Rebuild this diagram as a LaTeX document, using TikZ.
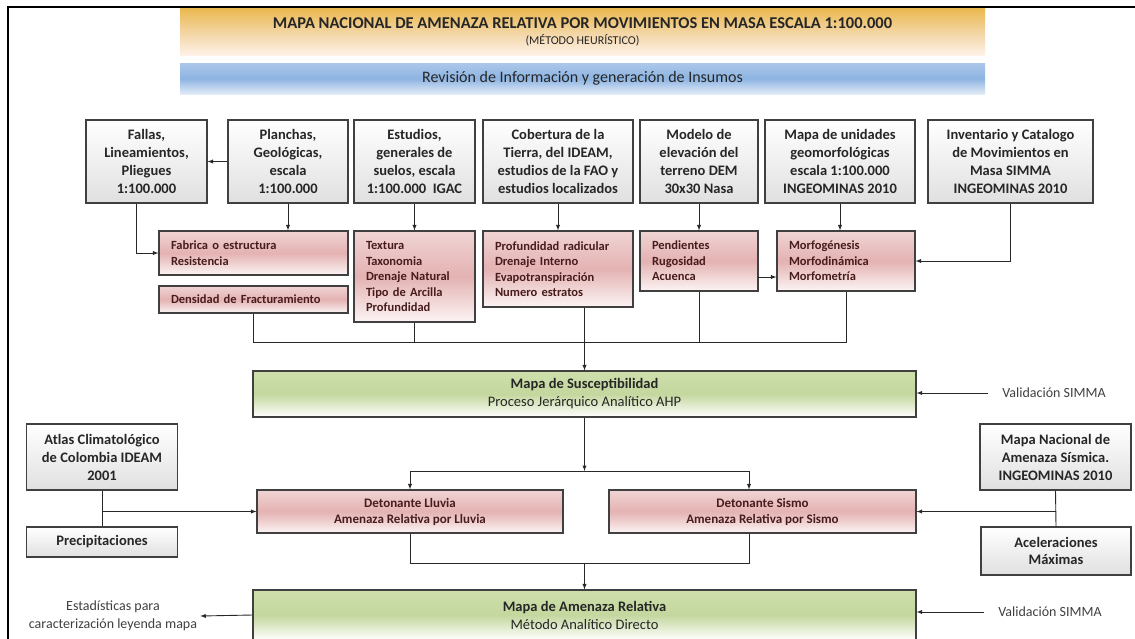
\documentclass[tikz,border=0pt]{standalone}
\usepackage{fontspec}
\setmainfont{Carlito}
\usetikzlibrary{positioning}

\definecolor{borde}{RGB}{64,64,64}
\definecolor{trazo}{RGB}{40,40,40}
\definecolor{tinta}{RGB}{38,38,38}
\definecolor{vino}{RGB}{72,28,28}
\definecolor{grisbajo}{RGB}{224,224,224}
\definecolor{rosaalto}{RGB}{240,212,212}
\definecolor{rosamedio}{RGB}{228,178,178}
\definecolor{rosabajo}{RGB}{252,244,244}
\definecolor{verdealto}{RGB}{206,223,172}
\definecolor{verdemedio}{RGB}{196,215,158}
\definecolor{oroalto}{RGB}{234,184,78}
\definecolor{oromedio}{RGB}{243,212,160}
\definecolor{orobajo}{RGB}{253,241,232}
\definecolor{azulalto}{RGB}{172,199,234}
\definecolor{azulmedio}{RGB}{141,180,226}
\definecolor{azulbajo}{RGB}{226,235,247}

\begin{document}
\begin{tikzpicture}[x=1pt, y=-1pt,
	banda/.style={align=center, text=tinta, inner sep=0pt},
	fuente/.style={draw=borde, line width=1.1pt, top color=white, bottom color=grisbajo, align=center, text=tinta, inner sep=0pt, font=\fontsize{14.5}{17.7}\selectfont\bfseries},
	insumo/.style={draw=borde, line width=1.1pt, top color=rosaalto, bottom color=rosabajo, middle color=rosamedio, align=left, text=vino, inner xsep=12pt, inner ysep=0pt, font=\fontsize{12.5}{15.5}\selectfont\bfseries},
	mapa/.style={draw=borde, line width=1.1pt, top color=verdealto, bottom color=white, middle color=verdemedio, align=center, text=tinta, inner sep=0pt, font=\fontsize{14.5}{18}\selectfont},
	detonante/.style={draw=borde, line width=1.1pt, top color=rosaalto, bottom color=rosabajo, middle color=rosamedio, align=center, text=vino, inner sep=0pt, font=\fontsize{13}{16}\selectfont\bfseries},
	nota/.style={align=center, text=borde, inner xsep=14pt, font=\fontsize{14}{18}\selectfont},
	flecha/.style={-latex, line width=0.9pt, draw=trazo},
	linea/.style={line width=0.9pt, draw=trazo}]
	\useasboundingbox (0,0) rectangle (1135,638);

	% marco
	\draw[line width=2.5pt, black] (8,640) -- (8,7) -- (1136,7);

	% titulo y revision
	\node[banda, top color=oroalto, bottom color=orobajo, middle color=oromedio, minimum width=805pt, minimum height=47pt] (titulo) at (582.5,31.5)
		{{\fontsize{16.5}{20}\selectfont\bfseries MAPA NACIONAL DE AMENAZA RELATIVA POR MOVIMIENTOS EN MASA ESCALA 1:100.000}\\[4pt]{\fontsize{12}{13}\selectfont (MÉTODO HEURÍSTICO)}};
	\node[banda, top color=azulalto, bottom color=azulbajo, middle color=azulmedio, minimum width=805pt, minimum height=31pt, font=\fontsize{16}{19}\selectfont] (revision) at (582.5,78.5)
		{Revisión de Información y generación de Insumos};

	% fuentes
	\node[fuente, minimum width=121pt, minimum height=83pt] (fallas) at (146.5,161.5) {Fallas,\\Lineamientos,\\Pliegues\\1:100.000};
	\node[fuente, minimum width=120pt, minimum height=83pt] (planchas) at (288,161.5) {Planchas,\\Geológicas,\\escala\\1:100.000};
	\node[fuente, minimum width=121pt, minimum height=83pt] (estudios) at (414.5,161.5) {Estudios,\\generales de\\suelos, escala\\1:100.000~~IGAC};
	\node[fuente, minimum width=150pt, minimum height=83pt] (cobertura) at (558,161.5) {Cobertura de la\\Tierra, del IDEAM,\\estudios de la FAO y\\estudios localizados};
	\node[fuente, minimum width=118pt, minimum height=83pt] (modelo) at (699,161.5) {Modelo de\\elevación del\\terreno DEM\\30x30 Nasa};
	\node[fuente, minimum width=150pt, minimum height=83pt] (unidades) at (840,161.5) {Mapa de unidades\\geomorfológicas\\escala 1:100.000\\INGEOMINAS 2010};
	\node[fuente, minimum width=165pt, minimum height=83pt] (inventario) at (1010.5,161.5) {Inventario y Catalogo\\de Movimientos en\\Masa SIMMA\\INGEOMINAS 2010};

	% insumos
	\node[insumo, text width=165pt, minimum height=44pt] (fabrica) at (253.5,253) {Fabrica o estructura\\Resistencia};
	\node[insumo, text width=165pt, minimum height=27pt] (densidad) at (253.5,299.5) {Densidad de Fracturamiento};
	\node[insumo, text width=97pt, minimum height=91pt] (textura) at (414.5,276.5) {Textura\\Taxonomia\\Drenaje Natural\\Tipo de Arcilla\\Profundidad};
	\node[insumo, text width=126pt, minimum height=76pt] (profundidad) at (558,269) {Profundidad radicular\\Drenaje Interno\\Evapotranspiración\\Numero estratos};
	\node[insumo, text width=94pt, minimum height=60pt] (pendientes) at (699,261) {Pendientes\\Rugosidad\\Acuenca};
	\node[insumo, text width=114pt, minimum height=60pt] (morfo) at (846,261) {Morfogénesis\\Morfodinámica\\Morfometría};

	\draw[flecha] (planchas.west) -- (fallas.east);
	\draw[flecha] ([xshift=-10pt]fallas.south) |- (fabrica.west);
	\draw[flecha] (planchas.south) -- (planchas.south |- fabrica.north);
	\draw[flecha] (estudios.south) -- (textura.north);
	\draw[flecha] (cobertura.south) -- (profundidad.north);
	\draw[flecha] (modelo.south) -- (pendientes.north);
	\draw[flecha] (unidades.south) -- (unidades.south |- morfo.north);
	\coordinate (pm) at (758,277);
	\draw[flecha] (pm) -- (pm -| morfo.west);
	\draw[flecha] (inventario.south) |- (morfo.east);

	% susceptibilidad
	\node[mapa, minimum width=663pt, minimum height=46pt] (susc) at (584.5,394) {\textbf{Mapa de Susceptibilidad}\\Proceso Jerárquico Analítico AHP};
	\node[nota] (val1) at (1054,393) {Validación SIMMA};

	\coordinate (bus) at (0,342);
	\draw[linea] (densidad.south) -- (densidad.south |- bus) -- (morfo.south |- bus) -- (morfo.south);
	\draw[linea] (textura.south) -- (textura.south |- bus);
	\draw[linea] (pendientes.south) -- (pendientes.south |- bus);
	\draw[flecha] (susc.north |- profundidad.south) -- (susc.north);
	\draw[flecha] (val1.west) -- (val1.west -| susc.east);

	% detonantes
	\node[detonante, minimum width=306pt, minimum height=43pt] (lluvia) at (410,511.5) {Detonante Lluvia\\Amenaza Relativa por Lluvia};
	\node[detonante, minimum width=307pt, minimum height=43pt] (sismo) at (762.5,511.5) {Detonante Sismo\\Amenaza Relativa por Sismo};

	\node[fuente, minimum width=151pt, minimum height=66pt, font=\fontsize{14.5}{18}\selectfont\bfseries] (atlas) at (102,457) {Atlas Climatológico\\de Colombia IDEAM\\2001};
	\node[fuente, minimum width=151pt, minimum height=30pt] (precip) at (102,542) {Precipitaciones};
	\node[fuente, minimum width=151pt, minimum height=66pt, font=\fontsize{14.5}{18}\selectfont\bfseries] (mapanac) at (1055.5,457) {Mapa Nacional de\\Amenaza Sísmica.\\INGEOMINAS 2010};
	\node[fuente, minimum width=150pt, minimum height=48pt] (acel) at (1056,551) {Aceleraciones\\Máximas};

	\coordinate (cruce) at (584.5,471);
	\coordinate (cruceS) at (749,471);
	\draw[flecha] (susc.south) -- (cruce);
	\draw[linea] (lluvia.north |- cruce) -- (cruceS);
	\draw[flecha] (lluvia.north |- cruce) -- (lluvia.north);
	\draw[flecha] (cruceS) -- (cruceS |- sismo.north);

	\draw[linea] (atlas.south) -- (precip.north);
	\draw[flecha] (atlas.south |- lluvia.west) -- (lluvia.west);
	\draw[linea] (mapanac.south) -- (acel.north);
	\draw[flecha] (mapanac.south |- sismo.east) -- (sismo.east);

	% amenaza relativa
	\node[mapa, minimum width=663pt, minimum height=50pt] (amenaza) at (584.5,615) {\textbf{Mapa de Amenaza Relativa}\\Método Analítico Directo};
	\node[nota] (val2) at (1050,612) {Validación SIMMA};
	\node[nota, inner xsep=3pt] (est) at (113,616) {Estadísticas para\\caracterización leyenda mapa};

	\coordinate (bajaS) at (749,563);
	\draw[linea] (lluvia.south) |- (bajaS) -- (sismo.south -| bajaS);
	\draw[flecha] (bajaS -| amenaza.north) -- (amenaza.north);
	\draw[flecha] (val2.west) -- (val2.west -| amenaza.east);
	\draw[flecha] (amenaza.west) -- (est.east);
\end{tikzpicture}
\end{document}
